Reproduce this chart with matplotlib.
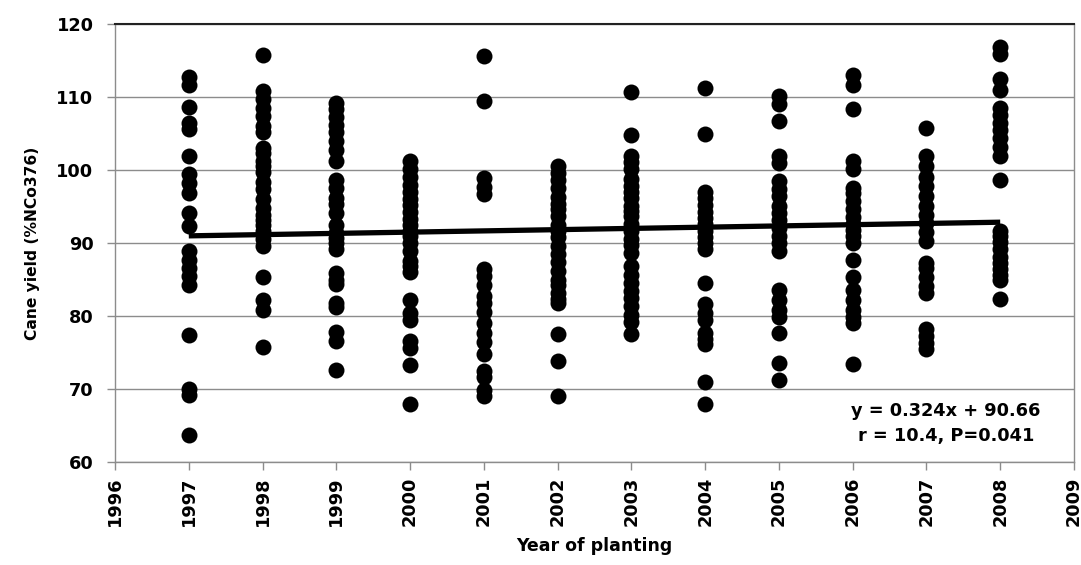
import matplotlib
matplotlib.use("Agg")
import matplotlib.pyplot as plt
import numpy as np

# Cane yield (% of NCo376) per planting year
years = [1997, 1998, 1999, 2000, 2001, 2002, 2003, 2004, 2005, 2006, 2007, 2008]

y1997 = [112.7, 111.6, 108.7, 106.5, 105.6, 101.9, 99.4, 98.2, 96.9, 94.1, 92.3,
         88.9, 87.7, 86.6, 85.5, 84.3, 77.4, 70.0, 69.2, 63.7]
y1998 = [115.8, 110.8, 109.7, 108.5, 107.4, 106.0, 105.2, 103.0, 102.3, 101.2, 100.5,
         99.7, 98.3, 97.4, 96.0, 94.8, 93.8, 93.1, 92.4, 91.6, 90.6, 89.6,
         85.4, 82.2, 80.8, 75.8]
y1999 = [109.2, 108.3, 107.3, 106.2, 105.2, 104.0, 102.8, 101.3, 98.6, 97.5, 96.2,
         95.3, 94.1, 92.5, 91.4, 90.7, 90.0, 89.2, 85.9, 85.0, 84.4, 81.8,
         81.3, 77.8, 76.6, 72.6]
y2000 = [101.2, 100.2, 99.1, 98.0, 97.0, 96.0, 95.2, 94.3, 93.3, 92.5, 91.7, 90.9,
         90.0, 88.9, 87.6, 86.8, 86.0, 82.2, 80.4, 79.5, 76.6, 75.6, 73.3, 67.9]
y2001 = [115.6, 109.4, 98.9, 97.7, 96.7, 86.5, 85.5, 84.2, 82.8, 81.8, 80.5, 79.1,
         77.7, 76.5, 74.8, 72.4, 71.6, 69.8, 69.1]
y2002 = [100.5, 99.6, 98.6, 97.5, 96.3, 95.3, 94.6, 93.7, 92.4, 91.6, 90.8, 89.6,
         88.5, 87.4, 86.2, 85.0, 84.3, 83.2, 82.3, 81.8, 77.6, 73.8, 69.0]
y2003 = [110.7, 104.8, 101.9, 101.1, 100.2, 98.7, 97.8, 97.0, 96.1, 95.1, 94.4, 93.7,
         92.6, 91.7, 90.6, 89.7, 88.6, 86.8, 85.6, 84.5, 83.4, 82.5, 81.4, 80.1,
         79.2, 77.6]
y2004 = [111.2, 105.0, 97.0, 96.1, 95.2, 94.3, 93.4, 92.6, 91.7, 90.8, 90.0, 89.2,
         84.5, 81.6, 80.4, 79.5, 77.7, 76.9, 76.1, 71.0, 67.9]
y2005 = [110.1, 109.1, 106.7, 101.9, 101.0, 98.5, 97.4, 96.4, 95.1, 94.1, 93.2, 92.1,
         90.9, 90.0, 88.9, 83.6, 82.2, 80.8, 79.9, 77.7, 73.6, 71.2]
y2006 = [113.0, 111.6, 108.4, 101.2, 100.2, 97.6, 96.8, 95.7, 94.6, 93.5, 92.6, 91.8,
         90.9, 90.0, 87.7, 85.4, 83.5, 82.2, 80.8, 79.9, 79.0, 73.4]
y2007 = [105.8, 101.9, 100.5, 99.1, 97.8, 96.4, 95.1, 93.8, 92.8, 91.5, 90.3, 87.2,
         86.6, 85.4, 84.1, 83.2, 78.2, 77.3, 76.3, 75.5]
y2008 = [116.9, 115.9, 112.5, 111.0, 108.5, 107.6, 106.5, 105.5, 104.4, 103.2, 101.9,
         98.6, 91.6, 90.9, 90.1, 89.2, 88.1, 87.3, 86.4, 85.6, 85.0, 82.3]

yield_by_year = [y1997, y1998, y1999, y2000, y2001, y2002,
                 y2003, y2004, y2005, y2006, y2007, y2008]

# Trend line endpoints and its annotation
trend_years = [1997, 2008]
trend_values = [90.98, 92.85]
equation_text = "y = 0.324x + 90.66"
stats_text = "r = 10.4, P=0.041"

x_ticks = list(range(1996, 2010))
y_ticks = [60, 70, 80, 90, 100, 110, 120]

plt.rcParams["font.family"] = ["DejaVu Sans"]
plt.rcParams["font.weight"] = "bold"

fig = plt.figure(figsize=(10.81, 5.65), dpi=100)
ax = fig.add_axes([0.1064, 0.1823, 0.8871, 0.7752])

for yr, vals in zip(years, yield_by_year):
    ax.plot([yr] * len(vals), vals, linestyle="none", marker="o",
            markersize=11.5, color="black", markeredgewidth=0, zorder=3)

ax.plot(trend_years, trend_values, color="black", linewidth=3.8,
        solid_capstyle="butt", zorder=4)

ax.set_xlim(1996, 2009)
ax.set_ylim(60, 120)
ax.set_xticks(x_ticks)
ax.set_xticklabels([str(t) for t in x_ticks], rotation=90, fontsize=12.8,
                   fontweight="bold")
ax.set_yticks(y_ticks)
ax.set_yticklabels([str(t) for t in y_ticks], fontsize=12.8, fontweight="bold")

ax.grid(axis="y", color="#8c8c8c", linewidth=1.0, zorder=0)
ax.set_axisbelow(True)
for side in ["left", "bottom", "right"]:
    ax.spines[side].set_color("#8c8c8c")
    ax.spines[side].set_linewidth(1.0)
ax.spines["top"].set_color("#222222")
ax.spines["top"].set_linewidth(1.5)
ax.tick_params(axis="both", direction="out", length=5.5, width=1.0,
               color="#8c8c8c")
ax.tick_params(axis="x", pad=5)
ax.tick_params(axis="y", pad=10)

ax.set_xlabel("Year of planting", fontsize=12.5, fontweight="bold", labelpad=8)
ax.set_ylabel("Cane yield (%NCo376)", fontsize=11.2, fontweight="bold", labelpad=12)

ax.text(0.8665, 0.1164, equation_text, transform=ax.transAxes, ha="center",
        va="center", fontsize=12.8, fontweight="bold")
ax.text(0.8665, 0.0594, stats_text, transform=ax.transAxes, ha="center",
        va="center", fontsize=12.8, fontweight="bold")

fig.savefig("out.png", dpi=100)
